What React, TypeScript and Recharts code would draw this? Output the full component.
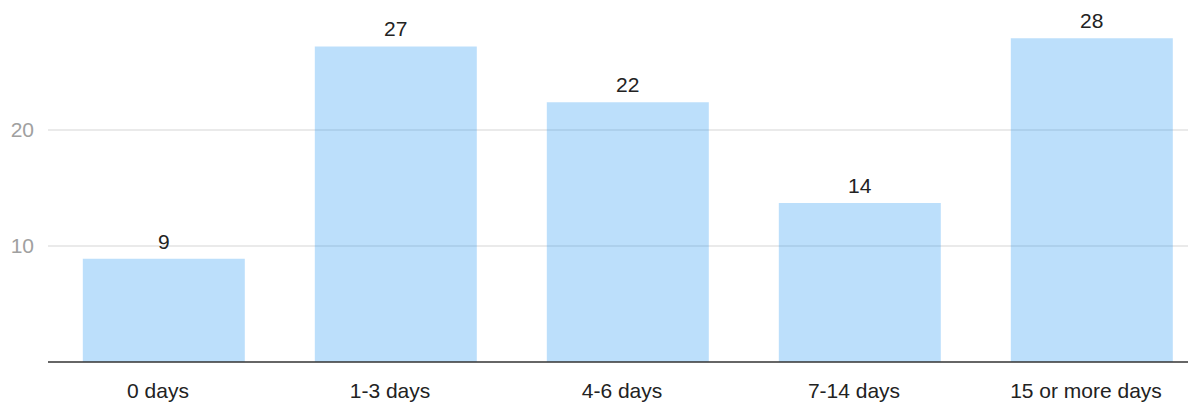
import { Bar, BarChart, CartesianGrid, LabelList, XAxis, YAxis } from "recharts";

const categories = ["0 days", "1-3 days", "4-6 days", "7-14 days", "15 or more days"];
const values = [8.9, 27.2, 22.4, 13.7, 27.9];
const labels = ["9", "27", "22", "14", "28"];
const yTicks = [10, 20];
const yMax = 30;

const data = categories.map((name, i) => ({ name, value: values[i], label: labels[i] }));

const FONT = "'Liberation Sans', Arial, sans-serif";

// only draw grid lines at the labelled ticks (no line along the top edge)
const gridRows = ({ offset }: any) =>
  yTicks.map((t) => offset.top + offset.height * (1 - t / yMax));

export default function App() {
  return (
    <div style={{ width: 1188, height: 396, overflow: "hidden" }}>
      <BarChart
        width={1200}
        height={396}
        data={data}
        margin={{ top: 6, right: 0, bottom: 0, left: 0 }}
        barCategoryGap="15%"
        style={{ fontFamily: FONT }}
      >
        <CartesianGrid
          vertical={false}
          stroke="#e3e3e3"
          strokeWidth={1.5}
          horizontalCoordinatesGenerator={gridRows}
        />
        <XAxis
          dataKey="name"
          height={42}
          tickLine={false}
          tickMargin={15}
          axisLine={{ stroke: "#333", strokeWidth: 1.5 }}
          tick={{ fill: "#222", fontSize: 21, dx: -6 }}
          interval={0}
        />
        <YAxis
          width={40}
          domain={[0, yMax]}
          ticks={yTicks}
          axisLine={false}
          tickLine={false}
          tickMargin={8}
          tick={{ fill: "#a0a0a0", fontSize: 21 }}
        />
        <Bar dataKey="value" fill="rgb(33,150,243)" fillOpacity={0.3} isAnimationActive={false}>
          <LabelList dataKey="label" position="top" offset={10} fill="#222" fontSize={21} />
        </Bar>
      </BarChart>
    </div>
  );
}
